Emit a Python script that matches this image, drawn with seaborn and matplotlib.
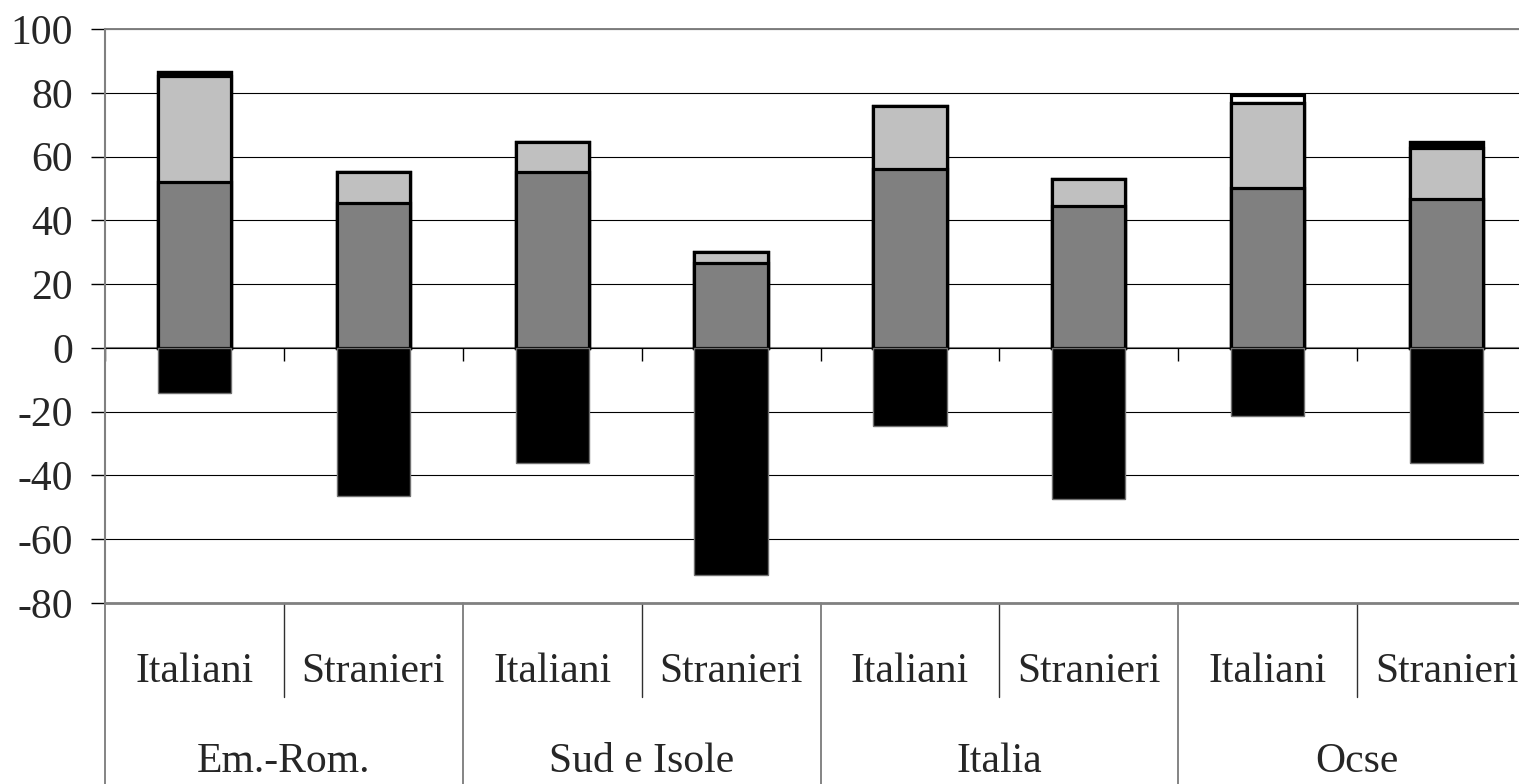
import matplotlib
matplotlib.use("Agg")
import matplotlib.pyplot as plt
import seaborn as sns
import numpy as np
from matplotlib.lines import Line2D

# ---- data ----
groups = ["Em.-Rom.", "Sud e Isole", "Italia", "Ocse"]
subgroups = ["Italiani", "Stranieri"]
negative = [-14.2, -46.4, -36.0, -71.2, -24.5, -47.3, -21.3, -36.0]
dark = [52.0, 45.5, 55.0, 26.7, 56.0, 44.6, 50.0, 46.8]
light = [33.2, 9.8, 9.6, 3.5, 20.0, 8.4, 26.7, 16.0]
black_top = [1.4, 0, 0, 0, 0, 0, 0, 1.8]
white_top = [0, 0, 0, 0, 0, 0, 2.5, 0]
y_ticks = [-80, -60, -40, -20, 0, 20, 40, 60, 80, 100]

cats = [f"{g}|{s}" for g in groups for s in subgroups]

sns.set_theme(style="white")
plt.rcParams["font.family"] = ["Liberation Serif", "DejaVu Serif"]
plt.rcParams["axes.unicode_minus"] = False

W, H = 1519, 784
fig = plt.figure(figsize=(W / 100, H / 100), dpi=100)
left_px, right_px = 105, 1536
top_px, bot_px = 29, 603
ax = fig.add_axes([left_px / W, (H - bot_px) / H,
                   (right_px - left_px) / W, (bot_px - top_px) / H])

c1 = np.array(dark)
c2 = c1 + np.array(light)
c3 = c2 + np.array(black_top)
c4 = c3 + np.array(white_top)

bw = 0.41
lw = 2.3
common = dict(x=cats, order=cats, width=bw, errorbar=None, saturation=1, ax=ax)
sns.barplot(y=c4, color="white", edgecolor="black", linewidth=lw, **common)
sns.barplot(y=c3, color="black", edgecolor="black", linewidth=lw, **common)
sns.barplot(y=c2, color="#C0C0C0", edgecolor="black", linewidth=lw, **common)
sns.barplot(y=c1, color="#808080", edgecolor="black", linewidth=lw, **common)
sns.barplot(y=negative, color="black", edgecolor="#707070", linewidth=1.0, **common)

ax.set_xlim(-0.5, 7.5)
ax.set_ylim(-80, 100)
ax.set_yticks(y_ticks)
ax.set_yticklabels([str(t) for t in y_ticks])
ax.set_xlabel("")
ax.set_ylabel("")

ax.set_axisbelow(True)
ax.yaxis.grid(True, color="black", linewidth=0.8)
ax.xaxis.grid(False)

for s in ["top", "right"]:
    ax.spines[s].set_visible(False)
ax.spines["left"].set_color("#808080")
ax.spines["left"].set_linewidth(1.5)
ax.spines["bottom"].set_position(("data", 0))
ax.spines["bottom"].set_color("#808080")
ax.spines["bottom"].set_linewidth(1.5)
ax.spines["bottom"].set_zorder(0.5)

# -80 baseline line and top line
ax.axhline(-80, color="#808080", linewidth=2.0, zorder=3, clip_on=False)
ax.axhline(100, color="#808080", linewidth=1.4, zorder=0.6, clip_on=False)

# x ticks at category boundaries on the zero line
ax.set_xticks(np.arange(-0.5, 8.0, 1.0))
ax.set_xticklabels([])
ax.tick_params(axis="x", direction="out", length=9.5, width=1.0, color="black",
               bottom=True)
ax.tick_params(axis="y", direction="out", length=10, width=1.0, color="black",
               left=True, labelsize=30, pad=13)

# multilevel category labels below the plot
trans = ax.get_xaxis_transform()
h_px = bot_px - top_px
sub_base = -(682 - bot_px) / h_px
grp_base = -(772 - bot_px) / h_px
sub_sep = -(697 - bot_px) / h_px
grp_sep = -(H - bot_px) / h_px

for i, c in enumerate(cats):
    ax.text(i, sub_base, c.split("|")[1], transform=trans, ha="center",
            va="baseline", fontsize=30, clip_on=False)
for gi, g in enumerate(groups):
    ax.text(gi * 2 + 0.5, grp_base, g, transform=trans, ha="center",
            va="baseline", fontsize=30, clip_on=False)
    xg = gi * 2 - 0.5
    ax.add_line(Line2D([xg, xg], [0, grp_sep], transform=trans, color="#707070",
                       linewidth=1.2, clip_on=False))
    xs = gi * 2 + 0.5
    ax.add_line(Line2D([xs, xs], [0, sub_sep], transform=trans, color="#303030",
                       linewidth=1.0, clip_on=False))

fig.savefig("out.png", dpi=100)
